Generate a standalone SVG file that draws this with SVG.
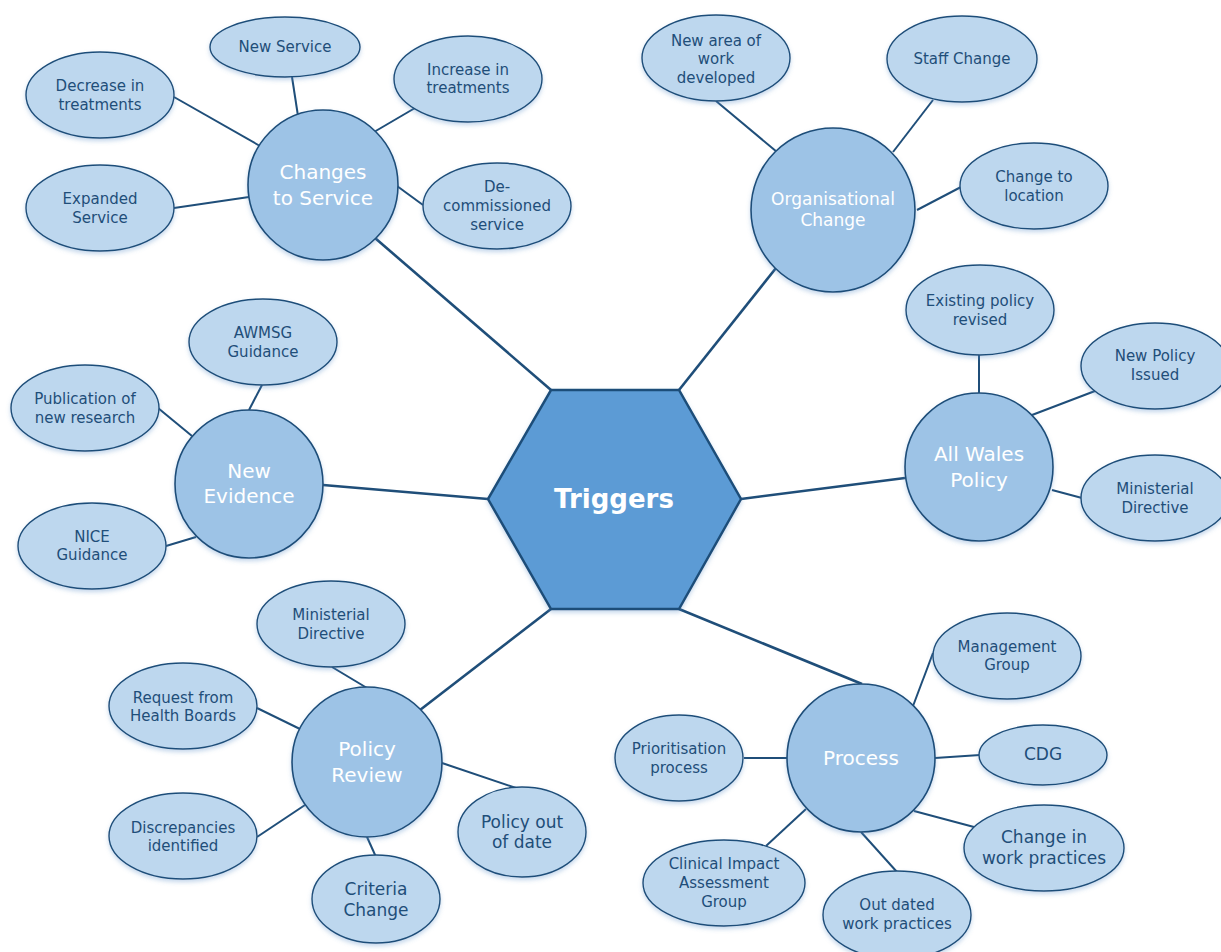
<svg xmlns="http://www.w3.org/2000/svg" width="1221" height="952" viewBox="0 0 1221 952">
  <defs>
    <filter id="shadow" x="-20%" y="-20%" width="140%" height="150%">
      <feDropShadow dx="0" dy="2.5" stdDeviation="2" flood-color="#5b8fc7" flood-opacity="0.35"/>
    </filter>
  </defs>
  <style>
    .spoke { stroke: #1f4e79; stroke-width: 2.6; fill: none; }
    .link { stroke: #1f4e79; stroke-width: 2; fill: none; }
    .hub { fill: #5b9bd5; stroke: #1f4e79; stroke-width: 2.5; filter: url(#shadow); }
    .topic { fill: #9dc3e6; stroke: #1f4e79; stroke-width: 1.6; filter: url(#shadow); }
    .leaf { fill: #bdd7ee; stroke: #1f4e79; stroke-width: 1.4; filter: url(#shadow); }
    text { font-family: "DejaVu Sans", Verdana, sans-serif; text-anchor: middle; }
    .hubText { fill: #ffffff; font-size: 26px; font-weight: bold; }
    .topicText { fill: #ffffff; font-size: 20px; }
    .leafText { fill: #1f4e79; font-size: 15px; }
    .leafBig { fill: #1f4e79; font-size: 17px; }
  </style>

  <g id="connectors">
    <!-- spokes from the central hexagon -->
    <line class="spoke" x1="551" y1="390" x2="375" y2="238"/>
    <line class="spoke" x1="679" y1="390" x2="776" y2="268"/>
    <line class="spoke" x1="741" y1="499" x2="905" y2="478"/>
    <line class="spoke" x1="488" y1="499" x2="323" y2="485"/>
    <line class="spoke" x1="551" y1="609" x2="420" y2="710"/>
    <line class="spoke" x1="679" y1="609" x2="862" y2="684"/>
    <!-- Changes to Service -->
    <line class="link" x1="292" y1="77" x2="298" y2="116"/>
    <line class="link" x1="174" y1="97" x2="260" y2="146"/>
    <line class="link" x1="415" y1="108" x2="374" y2="132"/>
    <line class="link" x1="174" y1="208" x2="249" y2="197"/>
    <line class="link" x1="423" y1="205" x2="397" y2="186"/>
    <!-- Organisational Change -->
    <line class="link" x1="716" y1="101" x2="777" y2="152"/>
    <line class="link" x1="933" y1="100" x2="893" y2="152"/>
    <line class="link" x1="961" y1="187" x2="917" y2="210"/>
    <!-- All Wales Policy -->
    <line class="link" x1="979" y1="355" x2="979" y2="393"/>
    <line class="link" x1="1095" y1="391" x2="1032" y2="415"/>
    <line class="link" x1="1082" y1="498" x2="1052" y2="490"/>
    <!-- New Evidence -->
    <line class="link" x1="262" y1="385" x2="249" y2="410"/>
    <line class="link" x1="158" y1="408" x2="192" y2="436"/>
    <line class="link" x1="166" y1="546" x2="196" y2="537"/>
    <!-- Policy Review -->
    <line class="link" x1="332" y1="667" x2="367" y2="688"/>
    <line class="link" x1="257" y1="708" x2="300" y2="729"/>
    <line class="link" x1="257" y1="837" x2="305" y2="805"/>
    <line class="link" x1="367" y1="837" x2="376" y2="857"/>
    <line class="link" x1="442" y1="763" x2="522" y2="790"/>
    <!-- Process -->
    <line class="link" x1="933" y1="653" x2="913" y2="706"/>
    <line class="link" x1="980" y1="755" x2="935" y2="758"/>
    <line class="link" x1="974" y1="827" x2="914" y2="811"/>
    <line class="link" x1="897" y1="872" x2="861" y2="832"/>
    <line class="link" x1="766" y1="846" x2="806" y2="809"/>
    <line class="link" x1="744" y1="758" x2="787" y2="758"/>
  </g>

  <g id="triggers">
    <polygon class="hub" points="551,390 679,390 741,499 679,609 551,609 488,499"/>
    <text class="hubText" x="614" y="508">Triggers</text>
  </g>

  <g id="changes-to-service">
    <circle class="topic" cx="323" cy="185" r="75"/>
    <text class="topicText" x="323" y="179">Changes</text>
    <text class="topicText" x="323" y="205">to Service</text>
  </g>
  <g id="new-service">
    <ellipse class="leaf" cx="285" cy="47" rx="75" ry="30"/>
    <text class="leafText" x="285" y="52">New Service</text>
  </g>
  <g id="decrease-in-treatments">
    <ellipse class="leaf" cx="100" cy="95" rx="74" ry="43"/>
    <text class="leafText" x="100" y="91">Decrease in</text>
    <text class="leafText" x="100" y="110">treatments</text>
  </g>
  <g id="increase-in-treatments">
    <ellipse class="leaf" cx="468" cy="79" rx="74" ry="43"/>
    <text class="leafText" x="468" y="75">Increase in</text>
    <text class="leafText" x="468" y="93">treatments</text>
  </g>
  <g id="expanded-service">
    <ellipse class="leaf" cx="100" cy="208" rx="74" ry="43"/>
    <text class="leafText" x="100" y="204">Expanded</text>
    <text class="leafText" x="100" y="223">Service</text>
  </g>
  <g id="decommissioned-service">
    <ellipse class="leaf" cx="497" cy="206" rx="74" ry="43"/>
    <text class="leafText" x="497" y="192">De-</text>
    <text class="leafText" x="497" y="211">commissioned</text>
    <text class="leafText" x="497" y="230">service</text>
  </g>

  <g id="organisational-change">
    <circle class="topic" cx="833" cy="210" r="82"/>
    <text class="topicText" x="833" y="205" style="font-size:17px">Organisational</text>
    <text class="topicText" x="833" y="226" style="font-size:17px">Change</text>
  </g>
  <g id="new-area-of-work">
    <ellipse class="leaf" cx="716" cy="58" rx="74" ry="43"/>
    <text class="leafText" x="716" y="46">New area of</text>
    <text class="leafText" x="716" y="64">work</text>
    <text class="leafText" x="716" y="83">developed</text>
  </g>
  <g id="staff-change">
    <ellipse class="leaf" cx="962" cy="59" rx="75" ry="43"/>
    <text class="leafText" x="962" y="64">Staff Change</text>
  </g>
  <g id="change-to-location">
    <ellipse class="leaf" cx="1034" cy="186" rx="74" ry="43"/>
    <text class="leafText" x="1034" y="182">Change to</text>
    <text class="leafText" x="1034" y="201">location</text>
  </g>

  <g id="all-wales-policy">
    <circle class="topic" cx="979" cy="467" r="74"/>
    <text class="topicText" x="979" y="461">All Wales</text>
    <text class="topicText" x="979" y="487">Policy</text>
  </g>
  <g id="existing-policy-revised">
    <ellipse class="leaf" cx="980" cy="310" rx="74" ry="45"/>
    <text class="leafText" x="980" y="306">Existing policy</text>
    <text class="leafText" x="980" y="325">revised</text>
  </g>
  <g id="new-policy-issued">
    <ellipse class="leaf" cx="1155" cy="366" rx="74" ry="43"/>
    <text class="leafText" x="1155" y="361">New Policy</text>
    <text class="leafText" x="1155" y="380">Issued</text>
  </g>
  <g id="ministerial-directive-wales">
    <ellipse class="leaf" cx="1155" cy="498" rx="74" ry="43"/>
    <text class="leafText" x="1155" y="494">Ministerial</text>
    <text class="leafText" x="1155" y="513">Directive</text>
  </g>

  <g id="new-evidence">
    <circle class="topic" cx="249" cy="484" r="74"/>
    <text class="topicText" x="249" y="478">New</text>
    <text class="topicText" x="249" y="503">Evidence</text>
  </g>
  <g id="awmsg-guidance">
    <ellipse class="leaf" cx="263" cy="342" rx="74" ry="43"/>
    <text class="leafText" x="263" y="338">AWMSG</text>
    <text class="leafText" x="263" y="357">Guidance</text>
  </g>
  <g id="publication-of-research">
    <ellipse class="leaf" cx="85" cy="408" rx="74" ry="43"/>
    <text class="leafText" x="85" y="404">Publication of</text>
    <text class="leafText" x="85" y="423">new research</text>
  </g>
  <g id="nice-guidance">
    <ellipse class="leaf" cx="92" cy="546" rx="74" ry="43"/>
    <text class="leafText" x="92" y="542">NICE</text>
    <text class="leafText" x="92" y="560">Guidance</text>
  </g>

  <g id="policy-review">
    <circle class="topic" cx="367" cy="762" r="75"/>
    <text class="topicText" x="367" y="756">Policy</text>
    <text class="topicText" x="367" y="782">Review</text>
  </g>
  <g id="ministerial-directive-review">
    <ellipse class="leaf" cx="331" cy="624" rx="74" ry="43"/>
    <text class="leafText" x="331" y="620">Ministerial</text>
    <text class="leafText" x="331" y="639">Directive</text>
  </g>
  <g id="request-from-health-boards">
    <ellipse class="leaf" cx="183" cy="706" rx="74" ry="43"/>
    <text class="leafText" x="183" y="703">Request from</text>
    <text class="leafText" x="183" y="721">Health Boards</text>
  </g>
  <g id="discrepancies-identified">
    <ellipse class="leaf" cx="183" cy="836" rx="74" ry="43"/>
    <text class="leafText" x="183" y="833">Discrepancies</text>
    <text class="leafText" x="183" y="851">identified</text>
  </g>
  <g id="criteria-change">
    <ellipse class="leaf" cx="376" cy="899" rx="64" ry="44"/>
    <text class="leafBig" x="376" y="895">Criteria</text>
    <text class="leafBig" x="376" y="916">Change</text>
  </g>
  <g id="policy-out-of-date">
    <ellipse class="leaf" cx="522" cy="832" rx="64" ry="45"/>
    <text class="leafBig" x="522" y="828">Policy out</text>
    <text class="leafBig" x="522" y="848">of date</text>
  </g>

  <g id="process">
    <circle class="topic" cx="861" cy="758" r="74"/>
    <text class="topicText" x="861" y="765">Process</text>
  </g>
  <g id="management-group">
    <ellipse class="leaf" cx="1007" cy="656" rx="74" ry="43"/>
    <text class="leafText" x="1007" y="652">Management</text>
    <text class="leafText" x="1007" y="670">Group</text>
  </g>
  <g id="cdg">
    <ellipse class="leaf" cx="1043" cy="755" rx="64" ry="30"/>
    <text class="leafBig" x="1043" y="760">CDG</text>
  </g>
  <g id="change-in-work-practices">
    <ellipse class="leaf" cx="1044" cy="848" rx="80" ry="43"/>
    <text class="leafBig" x="1044" y="843">Change in</text>
    <text class="leafBig" x="1044" y="864">work practices</text>
  </g>
  <g id="out-dated-work-practices">
    <ellipse class="leaf" cx="897" cy="915" rx="74" ry="44"/>
    <text class="leafText" x="897" y="910">Out dated</text>
    <text class="leafText" x="897" y="929">work practices</text>
  </g>
  <g id="clinical-impact-assessment-group">
    <ellipse class="leaf" cx="724" cy="883" rx="81" ry="43"/>
    <text class="leafText" x="724" y="869">Clinical Impact</text>
    <text class="leafText" x="724" y="888">Assessment</text>
    <text class="leafText" x="724" y="907">Group</text>
  </g>
  <g id="prioritisation-process">
    <ellipse class="leaf" cx="679" cy="758" rx="64" ry="43"/>
    <text class="leafText" x="679" y="754">Prioritisation</text>
    <text class="leafText" x="679" y="773">process</text>
  </g>
</svg>
